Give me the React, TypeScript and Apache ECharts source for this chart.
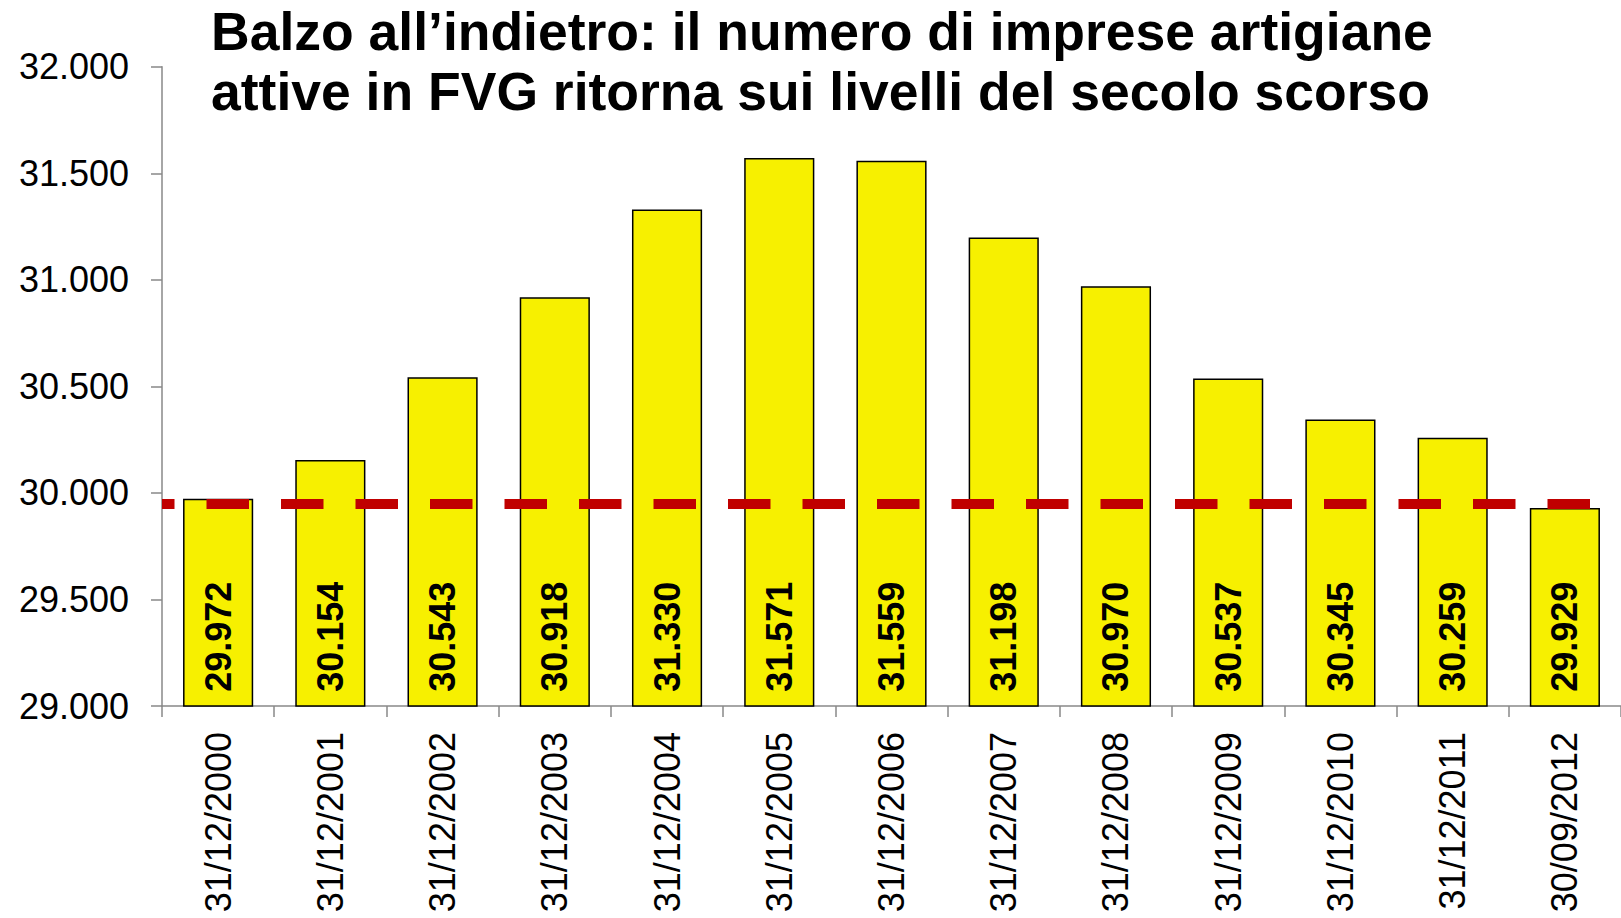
import React, { useEffect, useRef } from "react";
import * as echarts from "echarts";

// Active artisan businesses in Friuli Venezia Giulia, by reference date
const dates = [
  "31/12/2000",
  "31/12/2001",
  "31/12/2002",
  "31/12/2003",
  "31/12/2004",
  "31/12/2005",
  "31/12/2006",
  "31/12/2007",
  "31/12/2008",
  "31/12/2009",
  "31/12/2010",
  "31/12/2011",
  "30/09/2012",
];

const activeFirms = [
  29972, 30154, 30543, 30918, 31330, 31571, 31559, 31198, 30970, 30537, 30345,
  30259, 29929,
];

// Reference level drawn as a dashed line across the plot
const referenceLevel = 29950;

const yMin = 29000;
const yMax = 32000;
const yStep = 500;

const titleLines = [
  "Balzo all\u2019indietro: il numero di imprese artigiane",
  "attive in FVG ritorna sui livelli del secolo scorso",
];

const FONT = '"Liberation Sans", Arial, Helvetica, sans-serif';

// 29972 -> "29.972"
const withDots = (v: number) =>
  String(Math.round(v)).replace(/\B(?=(\d{3})+(?!\d))/g, ".");

export default function App() {
  const ref = useRef<HTMLDivElement>(null);

  useEffect(() => {
    if (!ref.current) return;
    const chart = echarts.init(ref.current, null, { renderer: "svg" });

    chart.setOption({
      animation: false,
      backgroundColor: "#ffffff",
      title: {
        text: titleLines.join("\n"),
        left: 211,
        top: 1,
        padding: 0,
        textStyle: {
          fontFamily: FONT,
          fontSize: 53.5,
          fontWeight: "bold",
          color: "#000000",
          lineHeight: 60,
        },
      },
      grid: {
        left: 162,
        top: 66.7,
        right: -2,
        bottom: 212,
      },
      xAxis: {
        type: "category",
        data: dates,
        axisLine: { lineStyle: { color: "#888888", width: 1.5 } },
        axisTick: {
          show: true,
          length: 11,
          lineStyle: { color: "#888888", width: 1.5 },
        },
        axisLabel: {
          rotate: 90,
          margin: 26,
          fontFamily: FONT,
          fontSize: 36,
          color: "#000000",
          interval: 0,
        },
      },
      yAxis: {
        type: "value",
        min: yMin,
        max: yMax,
        interval: yStep,
        splitLine: { show: false },
        axisLine: { show: true, lineStyle: { color: "#888888", width: 1.5 } },
        axisTick: {
          show: true,
          length: 11,
          lineStyle: { color: "#888888", width: 1.5 },
        },
        axisLabel: {
          margin: 33,
          fontFamily: FONT,
          fontSize: 36,
          color: "#000000",
          formatter: (v: number) => withDots(v),
        },
      },
      series: [
        {
          type: "bar",
          data: activeFirms,
          barCategoryGap: "37.5%",
          itemStyle: {
            color: "#F7F000",
            borderColor: "#000000",
            borderWidth: 1.5,
          },
          label: {
            show: true,
            position: "insideBottom",
            rotate: 90,
            align: "left",
            verticalAlign: "middle",
            distance: 15,
            fontFamily: FONT,
            fontSize: 36,
            fontWeight: "bold",
            color: "#000000",
            formatter: (p: any) => withDots(p.value),
          },
          markLine: {
            silent: true,
            symbol: "none",
            label: { show: false },
            lineStyle: {
              color: "#C00000",
              width: 10,
              type: [42.5, 32],
              dashOffset: 29.8,
              cap: "butt",
            },
            emphasis: { disabled: true },
            data: [{ yAxis: referenceLevel }],
          },
        },
      ],
    });

    return () => chart.dispose();
  }, []);

  return (
    <div
      ref={ref}
      style={{
        position: "fixed",
        left: 0,
        top: 0,
        width: 1621,
        height: 918,
      }}
    />
  );
}
